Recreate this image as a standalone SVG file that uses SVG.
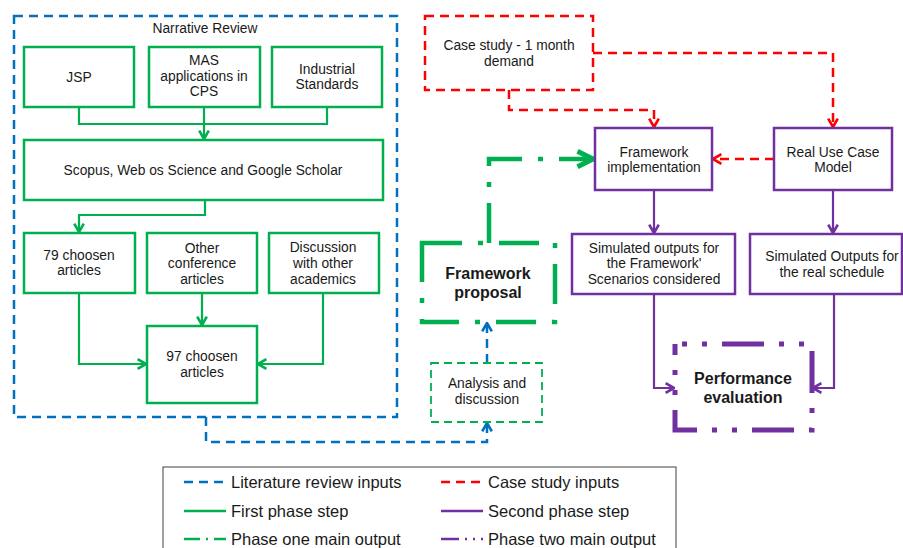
<svg xmlns="http://www.w3.org/2000/svg" width="903" height="548" viewBox="0 0 903 548">
<style>
text{font-family:"Liberation Sans",Arial,sans-serif;font-size:13.8px;fill:#1a1a1a;text-anchor:middle}
.b{font-weight:bold;font-size:16px}
.lg{font-size:16.5px;text-anchor:start}
.gbox{fill:#fff;stroke:#00B050;stroke-width:2.5}
.pbox{fill:#fff;stroke:#7030A0;stroke-width:2.5}
.g{fill:none;stroke:#00B050;stroke-width:2.2}
.p{fill:none;stroke:#7030A0;stroke-width:2.2}
.bl{fill:none;stroke:#0070C0;stroke-width:2.5;stroke-dasharray:9 6}
.rd{fill:none;stroke:#FF0000;stroke-width:2.5;stroke-dasharray:9 6}
.gd{fill:none;stroke:#00B050;stroke-width:1.8;stroke-dasharray:8 5}
.gdd{fill:none;stroke:#00B050;stroke-width:4.5;stroke-dasharray:40 16 5 16}
.pdd{fill:none;stroke:#7030A0;stroke-width:5;stroke-dasharray:42 15 5 15 5 15}
</style>
<defs>
<marker id="ag" viewBox="0 0 10 10" refX="9" refY="5" markerWidth="12" markerHeight="12" markerUnits="userSpaceOnUse" orient="auto"><path d="M2,1 L9,5 L2,9" fill="none" stroke="#00B050" stroke-width="2.2"/></marker>
<marker id="ap" viewBox="0 0 10 10" refX="9" refY="5" markerWidth="12" markerHeight="12" markerUnits="userSpaceOnUse" orient="auto"><path d="M2,1 L9,5 L2,9" fill="none" stroke="#7030A0" stroke-width="2.2"/></marker>
<marker id="ar" viewBox="0 0 10 10" refX="9" refY="5" markerWidth="12" markerHeight="12" markerUnits="userSpaceOnUse" orient="auto"><path d="M2,1 L9,5 L2,9" fill="none" stroke="#FF0000" stroke-width="2.2"/></marker>
<marker id="ab" viewBox="0 0 10 10" refX="9" refY="5" markerWidth="12" markerHeight="12" markerUnits="userSpaceOnUse" orient="auto"><path d="M2,1 L9,5 L2,9" fill="none" stroke="#0070C0" stroke-width="2.2"/></marker>
<marker id="agb" viewBox="0 0 20 20" refX="18" refY="10" markerWidth="22" markerHeight="22" markerUnits="userSpaceOnUse" orient="auto"><path d="M3,3 L17,10 L3,17" fill="none" stroke="#00B050" stroke-width="4.5"/></marker>
</defs>
<rect width="903" height="548" fill="#fff"/>

<g id="narrative-review">
<rect x="14" y="16" width="383" height="401" class="bl"/>
<text x="205" y="33">Narrative Review</text>
</g>

<g id="connectors">
<path d="M79,107 V124 H327 V107" class="g"/>
<path d="M204,107 V139" class="g" marker-end="url(#ag)"/>
<path d="M205,200 V215 H79 V232" class="g" marker-end="url(#ag)"/>
<path d="M202,293 V325" class="g" marker-end="url(#ag)"/>
<path d="M79,293 V364 H146" class="g" marker-end="url(#ag)"/>
<path d="M323,293 V364 H258" class="g" marker-end="url(#ag)"/>
<path d="M206,417 V442 H487 V423" class="bl" marker-end="url(#ab)"/>
<path d="M487,363 V323" class="bl" marker-end="url(#ab)"/>
<path d="M489,243 V159 H594" class="gdd" marker-end="url(#agb)"/>
<path d="M509,90 V110 H654 V127" class="rd" marker-end="url(#ar)"/>
<path d="M593,53 H833 V127" class="rd" marker-end="url(#ar)"/>
<path d="M774,159 H713" class="rd" marker-end="url(#ar)"/>
<path d="M654,190 V233" class="p" marker-end="url(#ap)"/>
<path d="M833,190 V233" class="p" marker-end="url(#ap)"/>
<path d="M654,294 V388 H674" class="p" marker-end="url(#ap)"/>
<path d="M834,294 V388 H813" class="p" marker-end="url(#ap)"/>
</g>

<g id="jsp"><rect x="24" y="47" width="110" height="60" class="gbox"/><text x="79" y="82">JSP</text></g>
<g id="mas"><rect x="149" y="47" width="111" height="60" class="gbox"/><text x="204" y="65">MAS</text><text x="204" y="81">applications in</text><text x="204" y="96">CPS</text></g>
<g id="industrial"><rect x="272" y="47" width="110" height="60" class="gbox"/><text x="327" y="74">Industrial</text><text x="327" y="89">Standards</text></g>
<g id="scopus"><rect x="24" y="140" width="359" height="60" class="gbox"/><text x="203" y="175">Scopus, Web os Science and Google Scholar</text></g>
<g id="chosen79"><rect x="24" y="233" width="111" height="60" class="gbox"/><text x="79" y="260">79 choosen</text><text x="79" y="275">articles</text></g>
<g id="other-conf"><rect x="147" y="233" width="110" height="60" class="gbox"/><text x="202" y="253">Other</text><text x="202" y="268">conference</text><text x="202" y="284">articles</text></g>
<g id="discussion"><rect x="269" y="233" width="110" height="60" class="gbox"/><text x="323" y="252">Discussion</text><text x="323" y="268">with other</text><text x="323" y="284">academics</text></g>
<g id="chosen97"><rect x="147" y="326" width="110" height="77" class="gbox"/><text x="202" y="361">97 choosen</text><text x="202" y="377">articles</text></g>

<g id="analysis"><rect x="431" y="363" width="111" height="59" class="gd"/><text x="487" y="388">Analysis and</text><text x="487" y="404">discussion</text></g>
<g id="framework-proposal"><rect x="422" y="243" width="133" height="79" class="gdd"/><text class="b" x="488" y="279">Framework</text><text class="b" x="488" y="298">proposal</text></g>

<g id="case-study"><rect x="425" y="16" width="168" height="74" class="rd"/><text x="509" y="50">Case study - 1 month</text><text x="509" y="66">demand</text></g>
<g id="framework-impl"><rect x="595" y="128" width="117" height="62" class="pbox"/><text x="654" y="157">Framework</text><text x="654" y="172">implementation</text></g>
<g id="real-use"><rect x="774" y="128" width="118" height="62" class="pbox"/><text x="833" y="157">Real Use Case</text><text x="833" y="172">Model</text></g>
<g id="sim1"><rect x="572" y="234" width="163" height="60" class="pbox"/><text x="654" y="253">Simulated outputs for</text><text x="654" y="268">the Framework'</text><text x="654" y="284">Scenarios considered</text></g>
<g id="sim2"><rect x="750" y="234" width="152" height="60" class="pbox"/><text x="832" y="261">Simulated Outputs for</text><text x="832" y="277">the real schedule</text></g>
<g id="performance"><rect x="675" y="344" width="137" height="86" class="pdd" stroke-dashoffset="-47"/><text class="b" x="743" y="384">Performance</text><text class="b" x="743" y="403">evaluation</text></g>

<g id="legend">
<rect x="163" y="467" width="513" height="100" fill="#fff" stroke="#404040" stroke-width="1"/>
<path d="M184,482 H226" stroke="#0070C0" stroke-width="2.5" stroke-dasharray="9 6"/>
<text class="lg" x="231" y="488">Literature review inputs</text>
<path d="M441,482 H483" stroke="#FF0000" stroke-width="2.5" stroke-dasharray="9 6"/>
<text class="lg" x="488" y="488">Case study inputs</text>
<path d="M184,511 H226" stroke="#00B050" stroke-width="2.5"/>
<text class="lg" x="231" y="517">First phase step</text>
<path d="M441,511 H483" stroke="#7030A0" stroke-width="2.5"/>
<text class="lg" x="488" y="517">Second phase step</text>
<path d="M184,539 H226" stroke="#00B050" stroke-width="2.5" stroke-dasharray="16 6 2 6"/>
<text class="lg" x="231" y="545">Phase one main output</text>
<path d="M441,539 H483" stroke="#7030A0" stroke-width="2.5" stroke-dasharray="18 6 2 6 2 6"/>
<text class="lg" x="488" y="545">Phase two main output</text>
</g>
</svg>
